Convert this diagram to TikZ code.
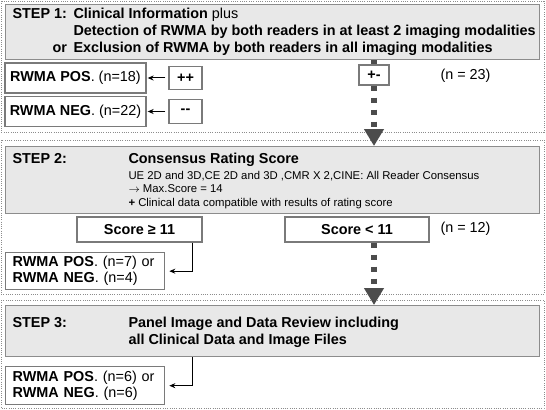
\documentclass[tikz,border=0pt]{standalone}
\usepackage{fontspec}
\setmainfont{Liberation Sans}
\usetikzlibrary{arrows.meta}

\newcommand{\grande}{\fontsize{10.8}{12}\selectfont}
\newcommand{\chico}{\fontsize{8.5}{10}\selectfont}

\begin{document}
\begin{tikzpicture}[x=0.75pt, y=-0.75pt, font=\grande,
  >={Stealth[length=4.5pt, width=3.8pt]}, line width=0.75pt,
  marco/.style={draw=black!45, densely dotted, line width=0.7pt},
  panel/.style={draw=black!45, fill=black!9, line width=1.1pt,
                anchor=north west, minimum width=400.5pt, inner sep=0pt},
  caja/.style={draw=black!52, fill=white, line width=1pt, inner sep=0pt},
  texto/.style={anchor=mid west, inner sep=0pt},
  gruesa/.style={draw=black!70, line width=4.5pt,
                 dash pattern=on 3.75pt off 5.25pt},
  flecha/.style={gruesa, -{Triangle[length=12.75pt, width=14.25pt]}}]

  \useasboundingbox (0,0) rectangle (546,410);

  \draw[marco] (1,1) rectangle (544,132);
  \draw[marco] (1,140) rectangle (544,294);
  \draw[marco] (1,300) rectangle (544,408);

  \node[panel, minimum height=41.25pt] (paso1) at (5,4) {};
  \node[panel, minimum height=50.25pt] (paso2) at (5,146) {};
  \node[panel, minimum height=38.25pt] (paso3) at (5,305) {};

  \node[texto, font=\grande\bfseries] (t1) at (12,15) {STEP 1:};
  \node[texto] (t1a) at (73,15) {\textbf{Clinical Information} plus};
  \node[texto, font=\grande\bfseries] (t1b) at (73,32)
    {Detection of RWMA by both readers in at least 2 imaging modalities};
  \node[texto, font=\grande\bfseries] (t1c) at (52,49) {or};
  \node[texto, font=\grande\bfseries] (t1d) at (73,49)
    {Exclusion of RWMA by both readers in all imaging modalities};

  \node[caja, minimum width=105.75pt, minimum height=22.5pt] (pos1) at (75.5,78)
    {\textbf{RWMA POS}. (n=18)};
  \node[caja, minimum width=105.75pt, minimum height=22pt] (neg1) at (75.5,111.5)
    {\textbf{RWMA NEG}. (n=22)};
  \node[caja, minimum width=24.75pt, minimum height=17.25pt, font=\grande\bfseries]
    (pp) at (185.5,78) {++};
  \node[caja, minimum width=24.75pt, minimum height=18pt, font=\grande\bfseries]
    (mm) at (185.5,111.5) {-\kern0pt-};
  \node[caja, minimum width=22.5pt, minimum height=15pt, font=\grande\bfseries]
    (pm) at (374,75) {+-};
  \node[texto] (n23) at (440,76) {(n = 23)};

  \draw[->, shorten <=2.25pt, shorten >=0.75pt] (pp) -- (pos1);
  \draw[->, shorten <=2.25pt, shorten >=0.75pt] (mm) -- (neg1);
  \draw[gruesa] (paso1.south -| pm) -- (pm.north);
  \draw[flecha] (pm.south) -- (paso2.north -| pm);

  \node[texto, font=\grande\bfseries] (t2) at (12,160) {STEP 2:};
  \node[texto, font=\grande\bfseries] (t2a) at (128,160) {Consensus Rating Score};
  \node[texto, font=\chico] (t2b) at (128,176)
    {UE 2D and 3D,CE 2D and 3D ,CMR X 2,CINE: All Reader Consensus};
  \node[texto, font=\chico] (t2c) at (128,189) {$\rightarrow$ Max.Score = 14};
  \node[texto, font=\chico] (t2d) at (128,203)
    {\textbf{+} Clinical data compatible with results of rating score};

  \node[caja, minimum width=93.75pt, minimum height=18.75pt, font=\grande\bfseries]
    (alto) at (139.5,229.5) {Score ≥ 11};
  \node[caja, minimum width=108pt, minimum height=18.75pt, font=\grande\bfseries]
    (bajo) at (357,229.5) {Score < 11};
  \node[texto] (n12) at (440,229) {(n = 12)};

  \node[caja, anchor=north west, text width=108.75pt, inner xsep=5.25pt,
        align=left, minimum height=27.75pt] (res2) at (5,252)
    {\textbf{RWMA POS}. (n=7) or\\\textbf{RWMA NEG}. (n=4)};
  \draw[->, shorten >=3pt] ([xshift=-7.5pt]alto.south east) |- (res2.east);
  \draw[flecha] (bajo.south -| pm) -- (paso3.north -| pm);

  \node[texto, font=\grande\bfseries] (t3) at (12,324) {STEP 3:};
  \node[texto, font=\grande\bfseries] (t3a) at (128,324)
    {Panel Image and Data Review including};
  \node[texto, font=\grande\bfseries] (t3b) at (128,341)
    {all Clinical Data and Image Files};

  \node[caja, anchor=north west, text width=108.75pt, inner xsep=5.25pt,
        align=left, minimum height=28.5pt] (res3) at (5,366)
    {\textbf{RWMA POS}. (n=6) or\\\textbf{RWMA NEG}. (n=6)};
  \draw[->, shorten >=3pt] ([xshift=140.25pt]paso3.south west) |- (res3.east);
\end{tikzpicture}
\end{document}
